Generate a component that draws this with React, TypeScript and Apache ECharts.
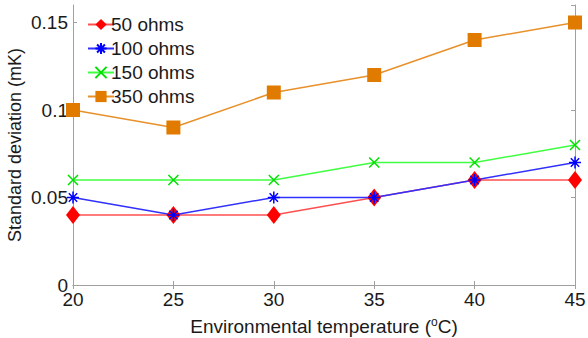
import React, { useEffect, useRef } from "react";
import * as echarts from "echarts";

const temperatures = [20, 25, 30, 35, 40, 45];
const seriesNames = ["50 ohms", "100 ohms", "150 ohms", "350 ohms"];
const ohms50 = [0.04, 0.04, 0.04, 0.05, 0.06, 0.06];
const ohms100 = [0.05, 0.04, 0.05, 0.05, 0.06, 0.07];
const ohms150 = [0.06, 0.06, 0.06, 0.07, 0.07, 0.08];
const ohms350 = [0.1, 0.09, 0.11, 0.12, 0.14, 0.15];
const yAxisTitle = "Standard deviation (mK)";

const FONT = "Liberation Sans, Arial, sans-serif";
const FS = 19;
const ASTERISK = "path://M0,-6L0,6M-6,0L6,0M-4.2,-4.2L4.2,4.2M-4.2,4.2L4.2,-4.2";
const CROSS = "path://M-5,-5L5,5M-5,5L5,-5";

export default function App() {
  const ref = useRef<HTMLDivElement>(null);
  useEffect(() => {
    const chart = echarts.init(ref.current!, null, { renderer: "svg" });
    const pairs = (vals: number[]) => temperatures.map((t, i) => [t, vals[i]]);
    const axisLine = { show: true, lineStyle: { color: "#a0a0a0", width: 1 } };
    const tick = { show: true, inside: true, length: 4, lineStyle: { color: "#a0a0a0" } };
    chart.setOption({
      animation: false,
      backgroundColor: "#ffffff",
      textStyle: { fontFamily: FONT },
      grid: { left: 73, right: 13, top: 5, bottom: 53, containLabel: false, outerBoundsMode: "none" },
      graphic: [
        {
          type: "text",
          x: 15,
          y: 145,
          rotation: Math.PI / 2,
          style: {
            text: yAxisTitle,
            fontFamily: FONT,
            fontSize: 18,
            fill: "#1a1a1a",
            align: "center",
            verticalAlign: "middle",
          },
        },
      ],
      legend: {
        orient: "vertical",
        left: 82,
        top: 10,
        itemWidth: 26,
        itemHeight: 14,
        itemGap: 5,
        data: seriesNames,
        textStyle: { fontFamily: FONT, fontSize: FS, color: "#1a1a1a", padding: [0, 0, 0, -8] },
      },
      xAxis: [
        {
          type: "value",
          min: 20,
          max: 45,
          interval: 5,
          axisLine,
          axisTick: tick,
          splitLine: { show: false },
          axisLabel: { fontFamily: FONT, fontSize: FS, color: "#1a1a1a", margin: 5 },
          name: "Environmental temperature ({sup|o}C)",
          nameLocation: "middle",
          nameGap: 31,
          nameTextStyle: {
            fontFamily: FONT,
            fontSize: FS,
            color: "#1a1a1a",
            rich: { sup: { fontSize: 12, verticalAlign: "top", padding: [0, 0, 9, 0], fontFamily: FONT, color: "#1a1a1a" } },
          },
        },
        {
          type: "value",
          position: "top",
          min: 20,
          max: 45,
          interval: 5,
          axisLine,
          axisTick: tick,
          axisLabel: { show: false },
          splitLine: { show: false },
        },
      ],
      yAxis: [
        {
          type: "value",
          min: 0,
          max: 0.16,
          interval: 0.05,
          axisLine,
          axisTick: tick,
          splitLine: { show: false },
          axisLabel: { fontFamily: FONT, fontSize: FS, color: "#1a1a1a", margin: 5, showMaxLabel: false },
        },
        {
          type: "value",
          position: "right",
          min: 0,
          max: 0.16,
          interval: 0.05,
          axisLine,
          axisTick: tick,
          axisLabel: { show: false },
          splitLine: { show: false },
        },
      ],
      series: [
        {
          name: seriesNames[0],
          type: "line",
          data: pairs(ohms50),
          symbol: "diamond",
          symbolSize: [14, 18],
          lineStyle: { color: "#ff5050", width: 1.5 },
          itemStyle: { color: "#ff0000" },
        },
        {
          name: seriesNames[1],
          type: "line",
          data: pairs(ohms100),
          symbol: ASTERISK,
          symbolSize: 12,
          lineStyle: { color: "#3030ff", width: 1.5 },
          itemStyle: { color: "none", borderColor: "#0000ff", borderWidth: 1.5 },
        },
        {
          name: seriesNames[2],
          type: "line",
          data: pairs(ohms150),
          symbol: CROSS,
          symbolSize: 10,
          lineStyle: { color: "#40ff40", width: 1.5 },
          itemStyle: { color: "none", borderColor: "#00e000", borderWidth: 1.5 },
        },
        {
          name: seriesNames[3],
          type: "line",
          data: pairs(ohms350),
          symbol: "rect",
          symbolSize: 14,
          lineStyle: { color: "#e8902a", width: 1.5 },
          itemStyle: { color: "#e07b00" },
        },
      ],
    });
    return () => chart.dispose();
  }, []);
  return <div ref={ref} style={{ width: 588, height: 338, position: "absolute", left: 0, top: 0 }} />;
}
